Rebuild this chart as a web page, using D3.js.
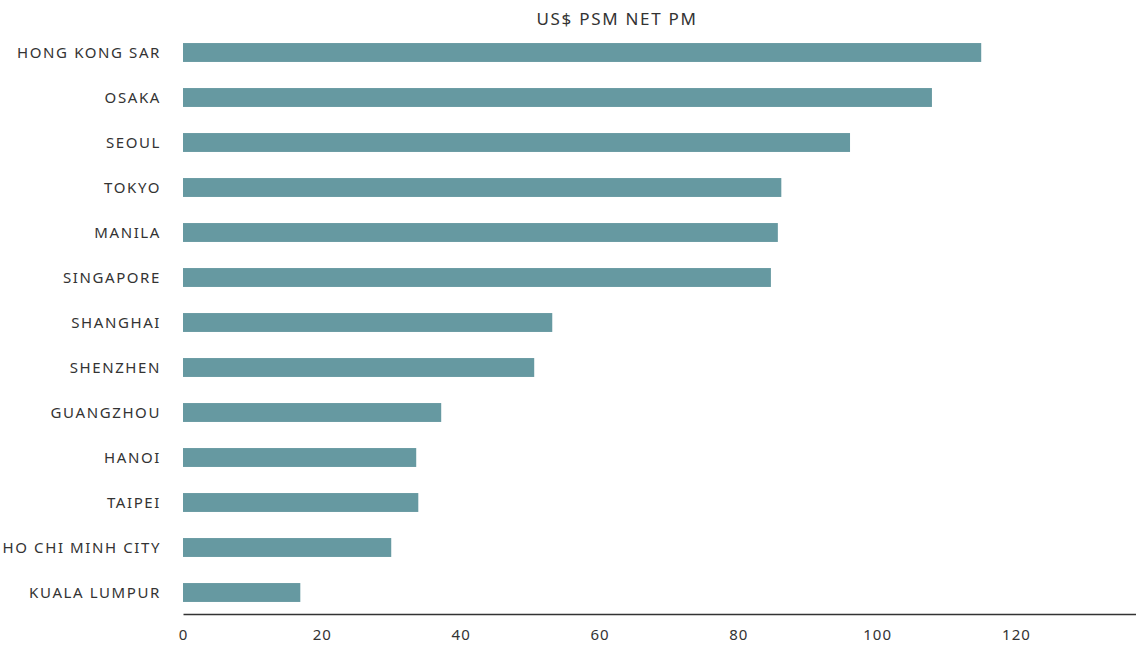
<!DOCTYPE html>
<html lang="en">
  <head>
    <meta charset="utf-8">
    <script src="https://d3js.org/d3.v7.min.js"></script>
    <style>
      body { margin: 0; background: #fff; }
      text { font-family: "Noto Sans", sans-serif; fill: #333; }
    </style>
  </head>
  <body>
    <script>
      // data
      var cities = ["HONG KONG SAR", "OSAKA", "SEOUL", "TOKYO", "MANILA", "SINGAPORE",
        "SHANGHAI", "SHENZHEN", "GUANGZHOU", "HANOI", "TAIPEI", "HO CHI MINH CITY", "KUALA LUMPUR"];
      var values = [115.0, 107.9, 96.1, 86.2, 85.7, 84.7, 53.2, 50.6, 37.2, 33.6, 33.9, 30.0, 16.9];
      var tickValues = [0, 20, 40, 60, 80, 100, 120];
      var title = "US$ PSM NET PM";

      var width = 1136, height = 648;
      var svg = d3.select("body").append("svg")
        .attr("width", width)
        .attr("height", height);

      var x = d3.scaleLinear().domain([0, 137.3]).range([183, 1136]);
      var y = d3.scaleBand().domain(cities).range([30, 615])
        .paddingInner(0.58).paddingOuter(0.29);

      // bars
      svg.selectAll("rect.bar")
        .data(cities)
        .join("rect")
        .attr("class", "bar")
        .attr("x", x(0))
        .attr("y", function (d) { return y(d); })
        .attr("width", function (d, i) { return x(values[i]) - x(0); })
        .attr("height", y.bandwidth())
        .attr("fill", "#6699a1");

      // category labels
      svg.selectAll("text.cat")
        .data(cities)
        .join("text")
        .attr("class", "cat")
        .attr("x", 161)
        .attr("y", function (d) { return y(d) + y.bandwidth() / 2; })
        .attr("dy", "0.35em")
        .attr("text-anchor", "end")
        .style("font-size", "15px")
        .style("letter-spacing", "1.6px")
        .text(function (d) { return d; });

      // x axis
      var axis = svg.append("g").attr("transform", "translate(0,614)")
        .call(d3.axisBottom(x).tickValues(tickValues).tickSize(0).tickPadding(15));
      axis.select(".domain").attr("stroke", "#333").attr("stroke-width", 1.5);
      axis.selectAll(".tick text")
        .style("font-size", "15px")
        .style("letter-spacing", "1px")
        .style("font-family", "'Noto Sans', sans-serif")
        .attr("fill", "#333");

      svg.append("text")
        .attr("x", 617)
        .attr("y", 25)
        .attr("text-anchor", "middle")
        .style("font-size", "17px")
        .style("letter-spacing", "1.7px")
        .text(title);
    </script>
  </body>
</html>
